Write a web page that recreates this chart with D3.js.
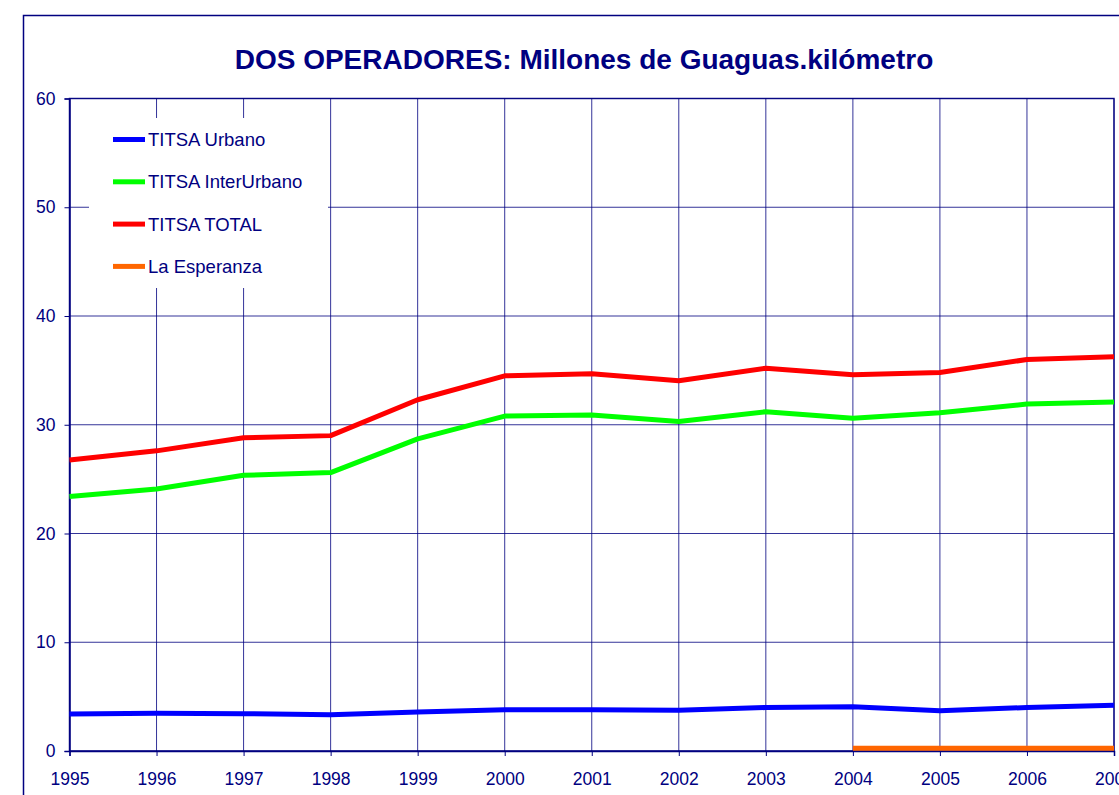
<!DOCTYPE html>
<html>
<head>
<meta charset="utf-8">
<script src="https://cdn.jsdelivr.net/npm/d3@7"></script>
<style>
  body { margin: 0; background: #fff; }
  svg { display: block; font-family: "Liberation Sans", Arial, sans-serif; }
</style>
</head>
<body>
<div id="chart"></div>
<script>
const width = 1119;
const height = 795;

const years = [1995, 1996, 1997, 1998, 1999, 2000, 2001, 2002, 2003, 2004, 2005, 2006, 2007];
const urbano = [3.4, 3.47, 3.43, 3.34, 3.59, 3.8, 3.8, 3.74, 4.0, 4.07, 3.7, 4.0, 4.2];
const interUrbano = [23.4, 24.1, 25.35, 25.6, 28.7, 30.8, 30.9, 30.3, 31.2, 30.6, 31.1, 31.9, 32.1];
const total = [26.75, 27.6, 28.8, 29.0, 32.3, 34.5, 34.7, 34.05, 35.2, 34.6, 34.8, 36.0, 36.25];
const esperanza = [null, null, null, null, null, null, null, null, null, 0.25, 0.25, 0.25, 0.25];
const yTicks = [0, 10, 20, 30, 40, 50, 60];

const series = [
    { name: "TITSA Urbano", values: urbano, color: "#0000ff" },
    { name: "TITSA InterUrbano", values: interUrbano, color: "#00ff00" },
    { name: "TITSA TOTAL", values: total, color: "#ff0000" },
    { name: "La Esperanza", values: esperanza, color: "#ff6600" }
];

const navy = "#000080";
const margin = { left: 69.5, top: 98.5, right: 1114, bottom: 751 };

const svg = d3.select("#chart")
    .append("svg")
    .attr("width", width)
    .attr("height", height);

// outer chart border
svg.append("rect")
    .attr("x", 23.5)
    .attr("y", 15.5)
    .attr("width", 1110)
    .attr("height", 800)
    .attr("fill", "none")
    .attr("stroke", navy)
    .attr("stroke-width", 1.5);

svg.append("text")
    .attr("x", 584)
    .attr("y", 69)
    .attr("text-anchor", "middle")
    .attr("font-size", 28)
    .attr("font-weight", "bold")
    .attr("fill", navy)
    .text("DOS OPERADORES: Millones de Guaguas.kilómetro");

const x = d3.scalePoint()
    .domain(years)
    .range([margin.left, margin.right]);

const y = d3.scaleLinear()
    .domain([0, 60])
    .range([margin.bottom, margin.top]);

// grid
svg.append("g")
    .selectAll("line")
    .data(years)
    .enter()
    .append("line")
    .attr("x1", d => x(d))
    .attr("x2", d => x(d))
    .attr("y1", margin.top)
    .attr("y2", margin.bottom)
    .attr("stroke", navy)
    .attr("stroke-opacity", 0.8)
    .attr("stroke-width", 1);

svg.append("g")
    .selectAll("line")
    .data(yTicks)
    .enter()
    .append("line")
    .attr("x1", margin.left)
    .attr("x2", margin.right)
    .attr("y1", d => y(d))
    .attr("y2", d => y(d))
    .attr("stroke", navy)
    .attr("stroke-opacity", 0.8)
    .attr("stroke-width", 1);

// legend box covers the grid
svg.append("rect")
    .attr("x", 89)
    .attr("y", 118)
    .attr("width", 239)
    .attr("height", 170)
    .attr("fill", "#fff");

// plot frame
svg.append("rect")
    .attr("x", margin.left)
    .attr("y", margin.top)
    .attr("width", margin.right - margin.left)
    .attr("height", margin.bottom - margin.top)
    .attr("fill", "none")
    .attr("stroke", navy)
    .attr("stroke-opacity", 0.85)
    .attr("stroke-width", 1.5);

// axes
const yAxis = svg.append("g")
    .attr("transform", `translate(${margin.left},0)`)
    .call(d3.axisLeft(y).tickValues(yTicks).tickSize(5).tickPadding(9));

const xAxis = svg.append("g")
    .attr("transform", `translate(0,${margin.bottom})`)
    .call(d3.axisBottom(x).tickSize(5).tickPadding(16.5).tickFormat(d3.format("d")));

[yAxis, xAxis].forEach(a => {
    a.select(".domain").attr("stroke", navy).attr("stroke-width", 1.5);
    a.selectAll(".tick line").attr("stroke", navy);
    a.selectAll(".tick text")
        .attr("fill", navy)
        .attr("font-size", 17.5)
        .attr("font-family", "'Liberation Sans', Arial, sans-serif");
});

// lines
const line = d3.line()
    .defined(d => d.v !== null)
    .x(d => x(d.year))
    .y(d => y(d.v));

series.forEach(s => {
    svg.append("path")
        .datum(years.map((yr, i) => ({ year: yr, v: s.values[i] })))
        .attr("d", line)
        .attr("fill", "none")
        .attr("stroke", s.color)
        .attr("stroke-width", 5)
        .attr("stroke-linejoin", "round");
});

// legend
const legend = svg.append("g");
series.forEach((s, i) => {
    const ly = 139.5 + i * 42.3;
    legend.append("line")
        .attr("x1", 113)
        .attr("x2", 145)
        .attr("y1", ly)
        .attr("y2", ly)
        .attr("stroke", s.color)
        .attr("stroke-width", 5);
    legend.append("text")
        .attr("x", 148)
        .attr("y", ly + 6.5)
        .attr("font-size", 18.5)
        .attr("fill", navy)
        .text(s.name);
});
</script>
</body>
</html>
